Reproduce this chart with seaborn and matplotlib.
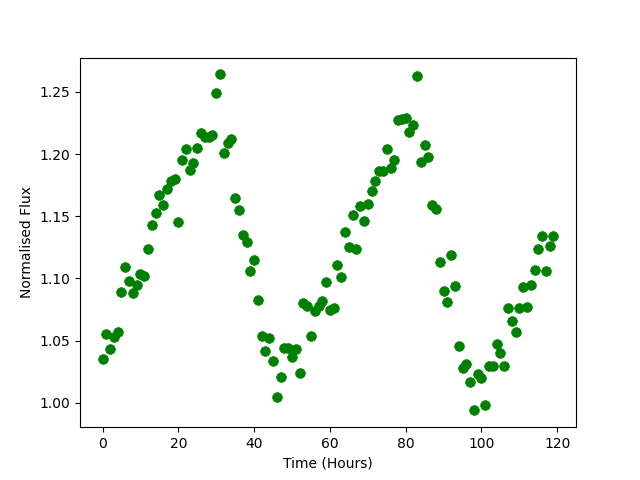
import numpy as np
import pandas as pd
import matplotlib
matplotlib.use("Agg")
import matplotlib.pyplot as plt
import seaborn as sns

# time in hours
hours = list(range(120))

# normalised flux
flux = [1.035, 1.055, 1.043, 1.053, 1.057, 1.089, 1.109, 1.098, 1.088, 1.095,
        1.104, 1.102, 1.124, 1.143, 1.153, 1.167, 1.159, 1.172, 1.178, 1.180,
        1.145, 1.195, 1.204, 1.187, 1.193, 1.205, 1.217, 1.214, 1.214, 1.215,
        1.249, 1.264, 1.201, 1.209, 1.212, 1.165, 1.155, 1.135, 1.129, 1.106,
        1.115, 1.083, 1.054, 1.042, 1.052, 1.034, 1.005, 1.021, 1.044, 1.044,
        1.037, 1.043, 1.024, 1.080, 1.078, 1.054, 1.074, 1.078, 1.082, 1.097,
        1.075, 1.076, 1.111, 1.101, 1.137, 1.125, 1.151, 1.124, 1.158, 1.146,
        1.160, 1.170, 1.178, 1.186, 1.186, 1.204, 1.189, 1.195, 1.227, 1.228,
        1.229, 1.218, 1.223, 1.263, 1.194, 1.207, 1.198, 1.159, 1.156, 1.113,
        1.090, 1.081, 1.119, 1.094, 1.046, 1.028, 1.031, 1.017, 0.994, 1.023,
        1.020, 0.998, 1.030, 1.030, 1.047, 1.040, 1.030, 1.076, 1.066, 1.057,
        1.076, 1.093, 1.077, 1.095, 1.107, 1.124, 1.134, 1.106, 1.126, 1.134]

df = pd.DataFrame({"Time (Hours)": hours, "Normalised Flux": flux})

fig, ax = plt.subplots(figsize=(6.4, 4.8), dpi=100)
sns.scatterplot(data=df, x="Time (Hours)", y="Normalised Flux", color="green",
                edgecolor="green", s=49, linewidth=0.5, ax=ax)
ax.set_xlabel("Time (Hours)")
ax.set_ylabel("Normalised Flux")
fig.savefig("out.png")
